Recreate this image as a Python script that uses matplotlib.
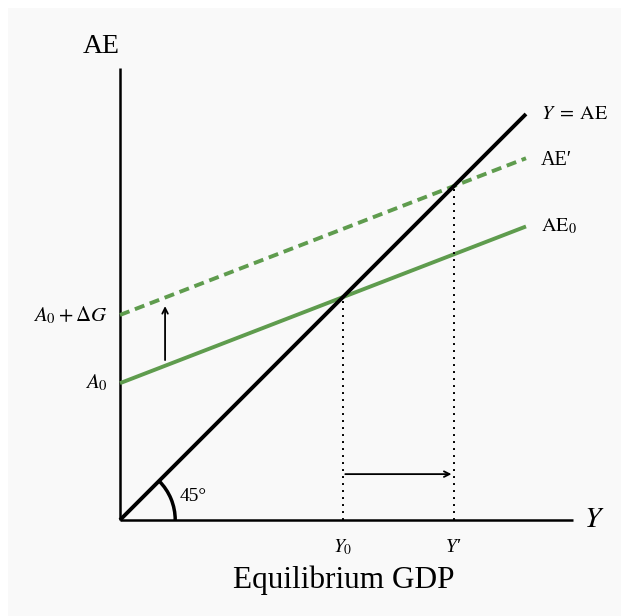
import matplotlib
matplotlib.use("Agg")
from matplotlib import pyplot as plt
from matplotlib.patches import Arc, Rectangle
import numpy as np

plt.rcParams["font.family"] = ["Liberation Serif", "DejaVu Serif"]
plt.rcParams["mathtext.fontset"] = "stix"

# model values (axis units)
A0 = 3.37          # autonomous spending
dG = 1.68          # rise in government spending
mpc = 0.386        # slope of AE line
y_max = 10.0       # right end of the drawn lines
x_axis_end = 11.15
y_axis_end = 11.13

line_labels = ["$Y\\;=\\;\\mathrm{AE}$", "AE\u2032", "$\\mathrm{AE}_0$"]
left_labels = ["$A_0 + \\Delta G$", "$A_0$"]
eq_labels = ["$Y_0$", "Y\u2032"]

green = "#5f9c4e"

Y = np.array([0, y_max])
ae0 = A0 + mpc * Y
ae1 = A0 + dG + mpc * Y
Y0 = A0 / (1 - mpc)
Y1 = (A0 + dG) / (1 - mpc)

fig = plt.figure(figsize=(6.21, 6.16), dpi=100)
fig.patch.set_facecolor("white")
fig.patches.append(Rectangle((8 / 621, 0), 1, 1 - 8 / 616, transform=fig.transFigure,
                             facecolor="#f9f9f9", edgecolor="none", zorder=-1))

ax = fig.add_axes([0, 0, 1, 1])
ax.set_xlim(-120 / 40.6, 501 / 40.6)
ax.set_ylim(-96 / 40.6, 520 / 40.6)
ax.axis("off")

# axes
ax.plot([0, 0], [0, y_axis_end], color="black", lw=1.8, solid_capstyle="butt")
ax.plot([0, x_axis_end], [0, 0], color="black", lw=1.8, solid_capstyle="butt")

# lines
ax.plot(Y, Y, color="black", lw=2.8, solid_capstyle="butt", zorder=3)
ax.plot(Y, ae0, color=green, lw=2.8, solid_capstyle="butt", zorder=2)
ax.plot(Y, ae1, color=green, lw=2.8, dashes=(2.6, 1.5), zorder=2)

# dotted guides
ax.plot([Y0, Y0], [0, Y0], color="black", lw=1.4, linestyle=(0, (1, 2.6)))
ax.plot([Y1, Y1], [0, Y1], color="black", lw=1.4, linestyle=(0, (1, 2.6)))

# shift arrows
xa = 1.11
ax.annotate("", xy=(xa, A0 + dG + xa * mpc - 0.21), xytext=(xa, A0 + xa * mpc + 0.14),
            arrowprops=dict(arrowstyle="->", lw=1.3, color="black", shrinkA=0, shrinkB=0))
ax.annotate("", xy=(Y1 - 0.06, 1.13), xytext=(Y0 + 0.06, 1.13),
            arrowprops=dict(arrowstyle="->", lw=1.3, color="black", shrinkA=0, shrinkB=0))

# 45 degree arc
ax.add_patch(Arc((0, 0), 2 * 1.36, 2 * 1.36, theta1=0, theta2=45, color="black", lw=2.5))
ax.text(1.48, 0.57, "45°", fontsize=14, ha="left", va="center")

# labels
ax.text(-0.47, 11.67, "AE", fontsize=20, ha="center", va="center")
ax.text(x_axis_end + 0.28, 0, "$Y$", fontsize=21, ha="left", va="center")
ax.text(5.5, -1.48, "Equilibrium GDP", fontsize=22.5, ha="center", va="center")

for yv, lab in zip([y_max, ae1[-1] - 0.06, ae0[-1]], line_labels):
    ax.text(y_max + 0.37, yv, lab, fontsize=14.5, ha="left", va="center")
for yv, lab in zip([A0 + dG, A0], left_labels):
    ax.text(-0.3, yv, lab, fontsize=15, ha="right", va="center")
for xv, lab in zip([Y0, Y1], eq_labels):
    st = "italic" if "\u2032" in lab else "normal"
    ax.text(xv, -0.67, lab, fontsize=14, ha="center", va="center", style=st)

fig.savefig("out.png", dpi=100, facecolor=fig.get_facecolor())
